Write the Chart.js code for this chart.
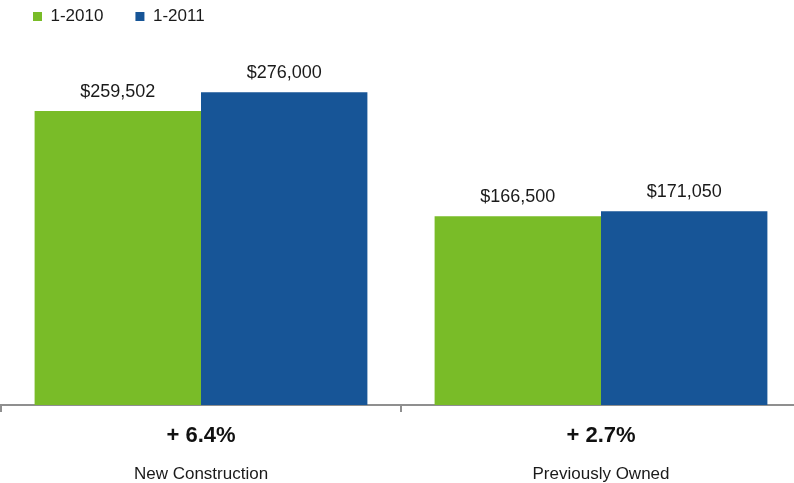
<!DOCTYPE html>
<html>
<head>
<meta charset="utf-8">
<script src="https://cdn.jsdelivr.net/npm/chart.js@4.4.1/dist/chart.umd.min.js"></script>
<style>
    html, body { margin: 0; padding: 0; background: #fff; overflow: hidden; }
    #wrap { position: relative; width: 802px; height: 483px; }
</style>
</head>
<body>
<div id="wrap"><canvas id="priceChart"></canvas></div>
<script>
// 数据
const categories = ['New Construction', 'Previously Owned'];
const changes = ['+ 6.4%', '+ 2.7%'];
const seriesNames = ['1-2010', '1-2011'];
const values2010 = [259502, 166500];
const values2011 = [276000, 171050];
const yTicks = [0, 300000];

const GREEN = '#79bc28';
const BLUE = '#175597';
const AXIS = '#8f8f8f';
const FONT = '"Liberation Sans", Arial, Helvetica, sans-serif';

// 柱子上方的数值
const valueLabels = {
    id: 'valueLabels',
    afterDatasetsDraw(chart) {
        const ctx = chart.ctx;
        ctx.save();
        ctx.font = '18px ' + FONT;
        ctx.fillStyle = '#1a1a1a';
        ctx.textAlign = 'center';
        ctx.textBaseline = 'alphabetic';
        chart.data.datasets.forEach((ds, i) => {
            chart.getDatasetMeta(i).data.forEach((bar, j) => {
                ctx.fillText('$' + ds.data[j].toLocaleString('en-US'), bar.x, bar.y - 14);
            });
        });
        ctx.restore();
    }
};

// 图例挪到左上角
const legendNudge = {
    id: 'legendNudge',
    afterLayout(chart) {
        chart.legend.top -= 30;
    }
};

new Chart(document.getElementById('priceChart'), {
    type: 'bar',
    data: {
        labels: categories,
        datasets: [{
            label: seriesNames[0],
            data: values2010,
            backgroundColor: GREEN
        }, {
            label: seriesNames[1],
            data: values2011,
            backgroundColor: BLUE
        }]
    },
    options: {
        responsive: true,
        maintainAspectRatio: false,
        animation: false,
        categoryPercentage: 0.832,
        barPercentage: 1,
        layout: { padding: { left: 1, right: 1, top: 6, bottom: 1 } },
        plugins: {
            tooltip: { enabled: false },
            legend: {
                position: 'top',
                align: 'start',
                labels: {
                    boxWidth: 9,
                    boxHeight: 9,
                    padding: 32,
                    color: '#1a1a1a',
                    font: { family: FONT, size: 17 }
                }
            }
        },
        scales: {
            y: {
                display: false,
                min: yTicks[0],
                max: yTicks[1]
            },
            x: {
                position: 'bottom',
                afterFit: (scale) => { scale.height = 38; },
                grid: {
                    drawOnChartArea: false,
                    offset: true,
                    tickLength: 7,
                    lineWidth: 2,
                    color: AXIS
                },
                border: { color: AXIS, width: 2 },
                ticks: {
                    padding: 11,
                    color: '#111',
                    font: { family: FONT, size: 22, weight: 'bold' },
                    callback: (v, i) => changes[i]
                }
            },
            x2: {
                type: 'category',
                position: 'bottom',
                labels: categories,
                offset: true,
                afterFit: (scale) => { scale.height = 39; },
                grid: { display: false },
                border: { display: false },
                ticks: {
                    padding: 13,
                    color: '#1a1a1a',
                    font: { family: FONT, size: 17 }
                }
            }
        }
    },
    plugins: [valueLabels, legendNudge]
});
</script>
</body>
</html>
